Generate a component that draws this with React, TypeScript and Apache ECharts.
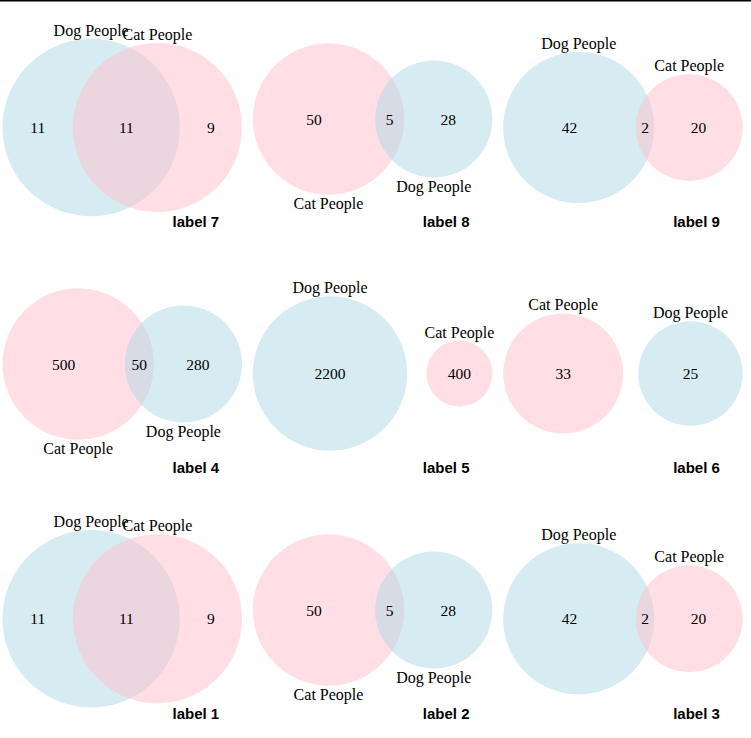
import React, { useEffect, useRef } from "react";
import * as echarts from "echarts";

// ---------- data (panel n = "label n") ----------
const panelTitles = ["label 1", "label 2", "label 3", "label 4", "label 5", "label 6", "label 7", "label 8", "label 9"];
const leftSetNames = ["Dog People", "Cat People", "Dog People", "Cat People", "Dog People", "Cat People", "Dog People", "Cat People", "Dog People"];
const rightSetNames = ["Cat People", "Dog People", "Cat People", "Dog People", "Cat People", "Dog People", "Cat People", "Dog People", "Cat People"];
const leftOnlyCounts = [11, 50, 42, 500, 2200, 33, 11, 50, 42];
const bothCounts = [11, 5, 2, 50, 0, 0, 11, 5, 2];
const rightOnlyCounts = [9, 28, 20, 280, 400, 25, 9, 28, 20];

// ---------- presentation ----------
const nameSide = ["top", "bottom", "top", "bottom", "top", "top", "top", "bottom", "top"];
const setColor: Record<string, string> = {
  "Dog People": "rgba(173,216,230,0.5)",
  "Cat People": "rgba(255,192,203,0.5)",
};

const PAGE_W = 751;
const PAGE_H = 738;
const CELL_W = PAGE_W / 3;
const ROW_H = 246;
const FIT_W = 239.5;
const LEFT_PAD = 2.5;
const TITLE_X = 172.5;
const TITLE_Y = 221.5;
const CENTER_Y_NAMES_TOP = 127.5;
const CENTER_Y_NAMES_BOTTOM = 118;
const NAME_GAP_TOP = 8.5;
const NAME_GAP_BOTTOM = 8.5;
const SERIF = "'Liberation Serif', 'Times New Roman', serif";
const SANS = "'Liberation Sans', Arial, sans-serif";

function lensArea(r1: number, r2: number, d: number) {
  if (d >= r1 + r2) return 0;
  if (d <= Math.abs(r1 - r2)) return Math.PI * Math.min(r1, r2) ** 2;
  const a1 = Math.acos((d * d + r1 * r1 - r2 * r2) / (2 * d * r1));
  const a2 = Math.acos((d * d + r2 * r2 - r1 * r1) / (2 * d * r2));
  return r1 * r1 * (a1 - Math.sin(2 * a1) / 2) + r2 * r2 * (a2 - Math.sin(2 * a2) / 2);
}

function distanceForOverlap(r1: number, r2: number, overlap: number) {
  let lo = Math.abs(r1 - r2);
  let hi = r1 + r2;
  for (let i = 0; i < 80; i++) {
    const mid = (lo + hi) / 2;
    if (lensArea(r1, r2, mid) > overlap) lo = mid;
    else hi = mid;
  }
  return (lo + hi) / 2;
}

function buildOption() {
  const grids: any[] = [];
  const xAxes: any[] = [];
  const yAxes: any[] = [];
  const series: any[] = [];
  const graphics: any[] = [
    { type: "rect", shape: { x: 0, y: 0, width: PAGE_W, height: 1.5 }, style: { fill: "#000" }, z: 10 },
  ];

  for (let i = 0; i < panelTitles.length; i++) {
    const row = 2 - Math.floor(i / 3);
    const col = i % 3;
    const rowTop = row * ROW_H;
    const cellLeft = col * CELL_W;

    const sizeA = leftOnlyCounts[i] + bothCounts[i];
    const sizeB = rightOnlyCounts[i] + bothCounts[i];
    const rA = Math.sqrt(sizeA / Math.PI);
    const rB = Math.sqrt(sizeB / Math.PI);
    const d = bothCounts[i] > 0 ? distanceForOverlap(rA, rB, bothCounts[i]) : rA + rB + Math.max(rA, rB) / 4;
    const xMin = -rA;
    const xMax = d + rB;
    const s = FIT_W / (xMax - xMin);
    const cy = rowTop + (nameSide[i] === "top" ? CENTER_Y_NAMES_TOP : CENTER_Y_NAMES_BOTTOM);

    grids.push({ left: cellLeft + LEFT_PAD, width: FIT_W, top: cy - 120, height: 240 });
    xAxes.push({ type: "value", gridIndex: i, min: xMin, max: xMax, show: false, splitLine: { show: false } });
    yAxes.push({ type: "value", gridIndex: i, min: -120 / s, max: 120 / s, show: false, splitLine: { show: false } });

    const names = [leftSetNames[i], rightSetNames[i]];
    const side = nameSide[i];
    series.push({
      type: "custom",
      xAxisIndex: i,
      yAxisIndex: i,
      z: 2,
      silent: true,
      data: [
        [0, 0, rA],
        [d, 0, rB],
      ],
      renderItem: (params: any, api: any) => {
        const k = params.dataIndex;
        const p = api.coord([api.value(0), api.value(1)]);
        const rp = api.size([api.value(2), 0])[0];
        const ty = side === "top" ? p[1] - rp - NAME_GAP_TOP : p[1] + rp + NAME_GAP_BOTTOM;
        return {
          type: "group",
          children: [
            { type: "circle", shape: { cx: p[0], cy: p[1], r: rp }, style: { fill: setColor[names[k]] } },
            {
              type: "text",
              z2: 5,
              style: {
                text: names[k],
                x: p[0],
                y: ty,
                align: "center",
                verticalAlign: "middle",
                fontSize: 16,
                fontFamily: SERIF,
                fill: "#000",
              },
            },
          ],
        };
      },
    });

    const counts: number[][] =
      bothCounts[i] > 0
        ? [
            [(-rA + (d - rB)) / 2, 0, leftOnlyCounts[i]],
            [(d - rB + rA) / 2, 0, bothCounts[i]],
            [(rA + d + rB) / 2, 0, rightOnlyCounts[i]],
          ]
        : [
            [0, 0, leftOnlyCounts[i]],
            [d, 0, rightOnlyCounts[i]],
          ];
    series.push({
      type: "custom",
      xAxisIndex: i,
      yAxisIndex: i,
      z: 3,
      silent: true,
      data: counts,
      renderItem: (params: any, api: any) => {
        const p = api.coord([api.value(0), api.value(1)]);
        return {
          type: "text",
          style: {
            text: String(api.value(2)),
            x: p[0],
            y: p[1],
            align: "center",
            verticalAlign: "middle",
            fontSize: 15.5,
            fontFamily: SERIF,
            fill: "#000",
          },
        };
      },
    });

    graphics.push({
      type: "text",
      x: cellLeft + TITLE_X,
      y: rowTop + TITLE_Y,
      style: {
        text: panelTitles[i],
        align: "left",
        verticalAlign: "middle",
        fontSize: 15,
        fontWeight: "bold",
        fontFamily: SANS,
        fill: "#000",
      },
    });
  }

  return {
    animation: false,
    backgroundColor: "#fff",
    grid: grids,
    xAxis: xAxes,
    yAxis: yAxes,
    series,
    graphic: graphics,
  };
}

export default function App() {
  const ref = useRef<HTMLDivElement>(null);
  useEffect(() => {
    if (!ref.current) return;
    const chart = echarts.init(ref.current, undefined, { renderer: "svg" });
    chart.setOption(buildOption() as any);
    return () => chart.dispose();
  }, []);
  return (
    <div
      ref={ref}
      style={{ position: "absolute", left: 0, top: 0, width: PAGE_W, height: PAGE_H }}
    />
  );
}
